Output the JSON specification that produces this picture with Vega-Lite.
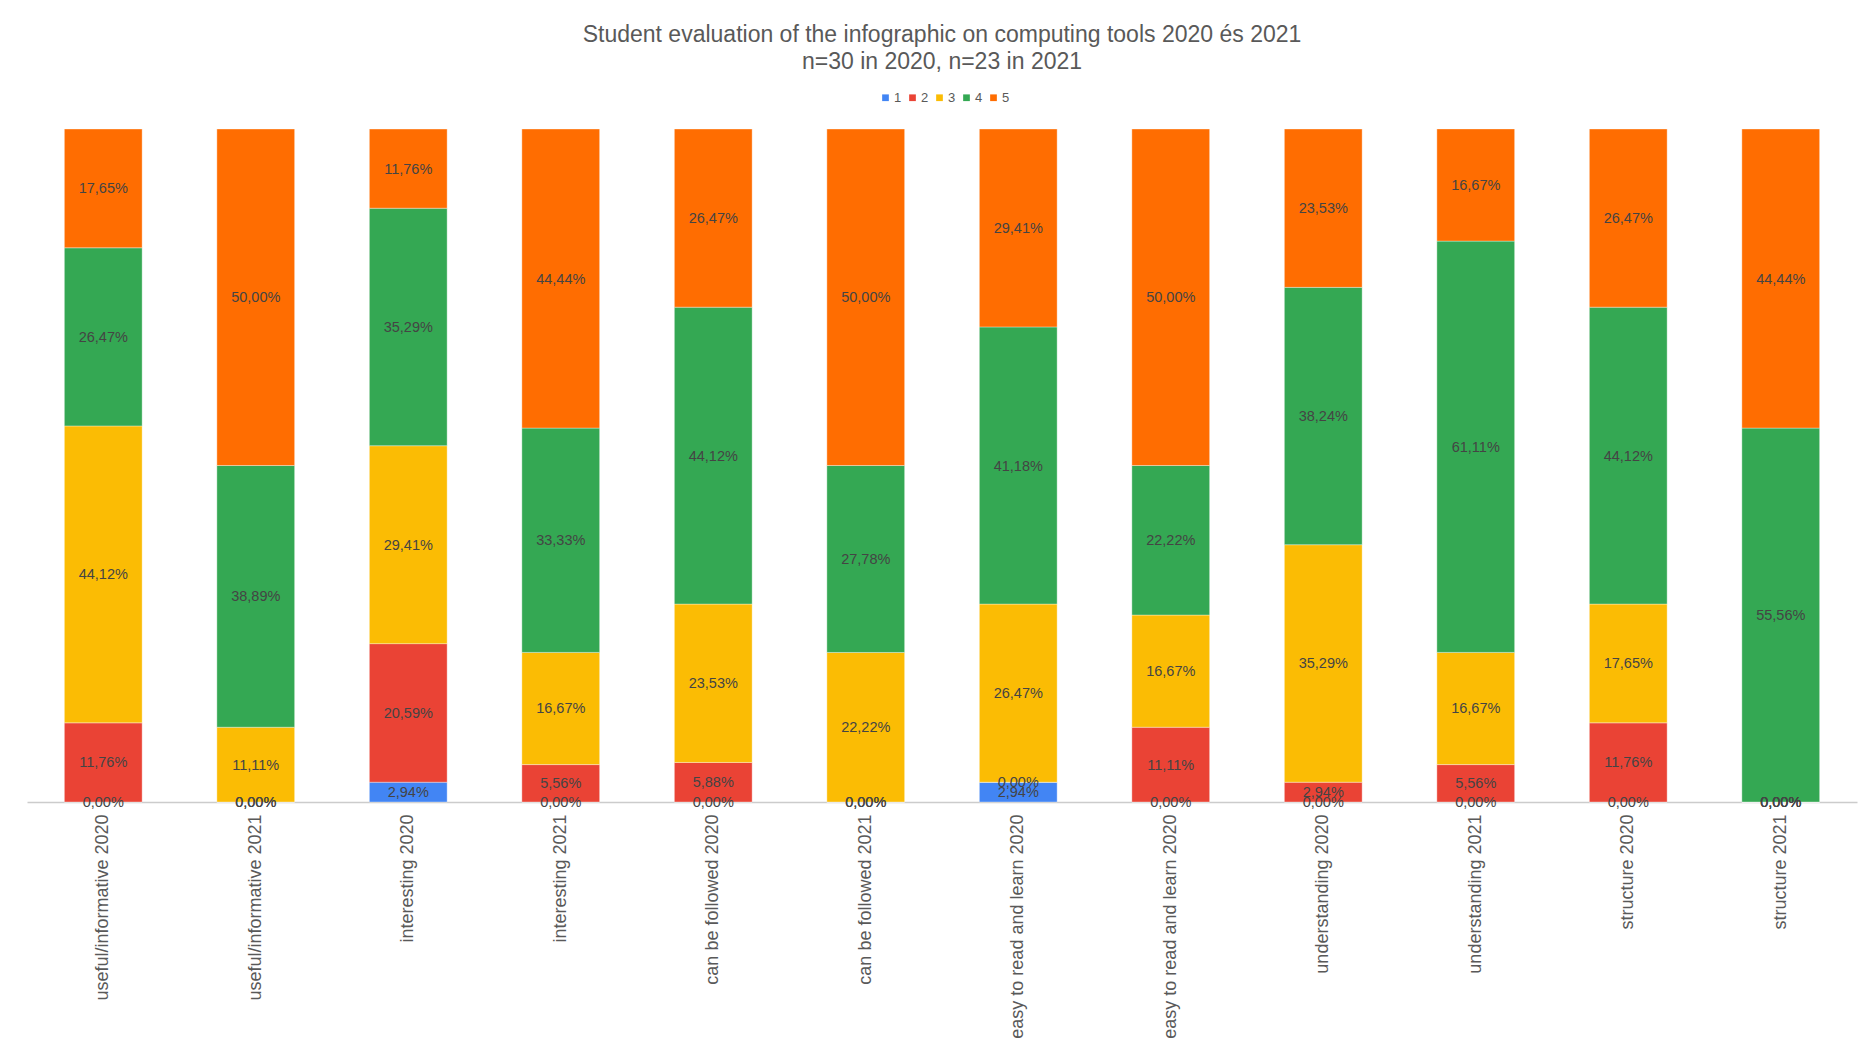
{
  "$schema": "https://vega.github.io/schema/vega-lite/v6.json",
  "autosize": "none",
  "width": 1830,
  "height": 673,
  "padding": {"left": 27, "top": 129, "right": 17, "bottom": 244},
  "background": "white",
  "config": {
    "locale": {"number": {"decimal": ",", "thousands": ".", "grouping": [3], "currency": ["", " €"]}},
    "view": {"stroke": null},
    "font": "Liberation Sans"
  },
  "title": {
    "text": ["Student evaluation of the infographic on computing tools 2020 és 2021", "n=30 in 2020, n=23 in 2021"],
    "anchor": "middle",
    "fontSize": 23,
    "fontWeight": "normal",
    "color": "#595959",
    "lineHeight": 27.5,
    "offset": 17
  },
  "data": {
    "values": [
      {"item": "useful/informative 2020", "rating": "1", "share": 0.0},
      {"item": "useful/informative 2020", "rating": "2", "share": 0.1176},
      {"item": "useful/informative 2020", "rating": "3", "share": 0.4412},
      {"item": "useful/informative 2020", "rating": "4", "share": 0.2647},
      {"item": "useful/informative 2020", "rating": "5", "share": 0.1765},
      {"item": "useful/informative 2021", "rating": "1", "share": 0.0},
      {"item": "useful/informative 2021", "rating": "2", "share": 0.0},
      {"item": "useful/informative 2021", "rating": "3", "share": 0.1111},
      {"item": "useful/informative 2021", "rating": "4", "share": 0.3889},
      {"item": "useful/informative 2021", "rating": "5", "share": 0.5},
      {"item": "interesting 2020", "rating": "1", "share": 0.0294},
      {"item": "interesting 2020", "rating": "2", "share": 0.2059},
      {"item": "interesting 2020", "rating": "3", "share": 0.2941},
      {"item": "interesting 2020", "rating": "4", "share": 0.3529},
      {"item": "interesting 2020", "rating": "5", "share": 0.1176},
      {"item": "interesting 2021", "rating": "1", "share": 0.0},
      {"item": "interesting 2021", "rating": "2", "share": 0.0556},
      {"item": "interesting 2021", "rating": "3", "share": 0.1667},
      {"item": "interesting 2021", "rating": "4", "share": 0.3333},
      {"item": "interesting 2021", "rating": "5", "share": 0.4444},
      {"item": "can be followed 2020", "rating": "1", "share": 0.0},
      {"item": "can be followed 2020", "rating": "2", "share": 0.0588},
      {"item": "can be followed 2020", "rating": "3", "share": 0.2353},
      {"item": "can be followed 2020", "rating": "4", "share": 0.4412},
      {"item": "can be followed 2020", "rating": "5", "share": 0.2647},
      {"item": "can be followed 2021", "rating": "1", "share": 0.0},
      {"item": "can be followed 2021", "rating": "2", "share": 0.0},
      {"item": "can be followed 2021", "rating": "3", "share": 0.2222},
      {"item": "can be followed 2021", "rating": "4", "share": 0.2778},
      {"item": "can be followed 2021", "rating": "5", "share": 0.5},
      {"item": "easy to read and learn 2020", "rating": "1", "share": 0.0294},
      {"item": "easy to read and learn 2020", "rating": "2", "share": 0.0},
      {"item": "easy to read and learn 2020", "rating": "3", "share": 0.2647},
      {"item": "easy to read and learn 2020", "rating": "4", "share": 0.4118},
      {"item": "easy to read and learn 2020", "rating": "5", "share": 0.2941},
      {"item": "easy to read and learn 2020 ", "rating": "1", "share": 0.0},
      {"item": "easy to read and learn 2020 ", "rating": "2", "share": 0.1111},
      {"item": "easy to read and learn 2020 ", "rating": "3", "share": 0.1667},
      {"item": "easy to read and learn 2020 ", "rating": "4", "share": 0.2222},
      {"item": "easy to read and learn 2020 ", "rating": "5", "share": 0.5},
      {"item": "understanding 2020", "rating": "1", "share": 0.0},
      {"item": "understanding 2020", "rating": "2", "share": 0.0294},
      {"item": "understanding 2020", "rating": "3", "share": 0.3529},
      {"item": "understanding 2020", "rating": "4", "share": 0.3824},
      {"item": "understanding 2020", "rating": "5", "share": 0.2353},
      {"item": "understanding 2021", "rating": "1", "share": 0.0},
      {"item": "understanding 2021", "rating": "2", "share": 0.0556},
      {"item": "understanding 2021", "rating": "3", "share": 0.1667},
      {"item": "understanding 2021", "rating": "4", "share": 0.6111},
      {"item": "understanding 2021", "rating": "5", "share": 0.1667},
      {"item": "structure 2020", "rating": "1", "share": 0.0},
      {"item": "structure 2020", "rating": "2", "share": 0.1176},
      {"item": "structure 2020", "rating": "3", "share": 0.1765},
      {"item": "structure 2020", "rating": "4", "share": 0.4412},
      {"item": "structure 2020", "rating": "5", "share": 0.2647},
      {"item": "structure 2021", "rating": "1", "share": 0.0},
      {"item": "structure 2021", "rating": "2", "share": 0.0},
      {"item": "structure 2021", "rating": "3", "share": 0.0},
      {"item": "structure 2021", "rating": "4", "share": 0.5556},
      {"item": "structure 2021", "rating": "5", "share": 0.4444}
    ]
  },
  "transform": [
    {"stack": "share", "groupby": ["item"], "sort": [{"field": "rating", "order": "ascending"}], "as": ["y0", "y1"]},
    {"calculate": "(datum.y0 + datum.y1) / 2", "as": "ymid"}
  ],
  "encoding": {
    "x": {
      "field": "item",
      "type": "nominal",
      "sort": null,
      "title": null,
      "scale": {"paddingInner": 0.49, "paddingOuter": 0.245},
      "axis": {
        "labelAngle": -90,
        "labelAlign": "right",
        "labelBaseline": "middle",
        "labelFontSize": 18,
        "labelColor": "#595959",
        "labelPadding": 12,
        "labelLimit": 400,
        "ticks": false,
        "domainColor": "#cccccc",
        "domainWidth": 1.5,
        "grid": false
      }
    }
  },
  "layer": [
    {
      "mark": {"type": "bar", "stroke": "#ffffff", "strokeOpacity": 0.35, "strokeWidth": 1},
      "encoding": {
        "y": {"field": "y0", "type": "quantitative", "scale": {"domain": [0, 1]}, "axis": null},
        "y2": {"field": "y1"},
        "color": {
          "field": "rating",
          "type": "nominal",
          "scale": {"domain": ["1", "2", "3", "4", "5"], "range": ["#4285F4", "#EA4335", "#FBBC04", "#34A853", "#FF6D01"]},
          "legend": {
            "title": null,
            "orient": "none",
            "legendX": 852,
            "legendY": -38,
            "direction": "horizontal",
            "symbolType": "square",
            "symbolSize": 45,
            "symbolStrokeWidth": 0,
            "labelFontSize": 13,
            "labelColor": "#595959",
            "labelOffset": 2,
            "columnPadding": 4
          }
        }
      }
    },
    {
      "mark": {"type": "text", "fontSize": 14.5, "color": "#444444", "baseline": "middle", "align": "center", "dy": 1},
      "encoding": {
        "y": {"field": "ymid", "type": "quantitative", "scale": {"domain": [0, 1]}},
        "text": {"field": "share", "type": "quantitative", "format": ".2%"}
      }
    }
  ]
}
